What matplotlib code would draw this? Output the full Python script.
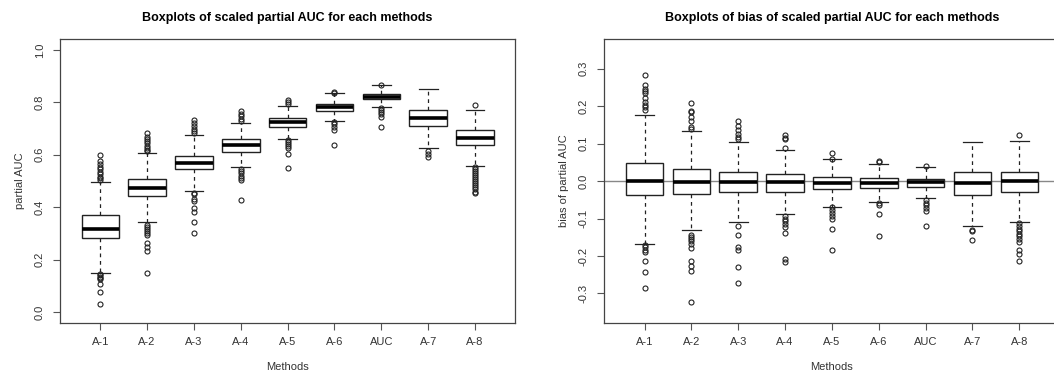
import matplotlib
matplotlib.use("Agg")
import matplotlib.pyplot as plt

plt.rcParams['font.family'] = ['Liberation Sans', 'DejaVu Sans']

methods = ["A-1", "A-2", "A-3", "A-4", "A-5", "A-6", "AUC", "A-7", "A-8"]

# left panel: scaled partial AUC
pauc_q1 = [0.281, 0.441, 0.545, 0.612, 0.705, 0.768, 0.812, 0.709, 0.636]
pauc_med = [0.319, 0.474, 0.570, 0.636, 0.726, 0.781, 0.822, 0.739, 0.664]
pauc_q3 = [0.369, 0.508, 0.597, 0.659, 0.739, 0.793, 0.832, 0.770, 0.693]
pauc_lo = [0.151, 0.345, 0.462, 0.552, 0.660, 0.730, 0.781, 0.627, 0.556]
pauc_hi = [0.495, 0.608, 0.677, 0.723, 0.786, 0.835, 0.866, 0.850, 0.770]
pauc_out = [
    [0.600, 0.575, 0.565, 0.555, 0.545, 0.535, 0.525, 0.515, 0.510, 0.505,
     0.145, 0.140, 0.135, 0.130, 0.125, 0.106, 0.076, 0.033],
    [0.684, 0.667, 0.660, 0.652, 0.643, 0.635, 0.627, 0.620, 0.615,
     0.332, 0.325, 0.318, 0.310, 0.303, 0.294, 0.265, 0.250, 0.234, 0.151],
    [0.733, 0.720, 0.710, 0.700, 0.690, 0.683,
     0.455, 0.450, 0.430, 0.425, 0.397, 0.383, 0.345, 0.302],
    [0.765, 0.757, 0.747, 0.737, 0.728,
     0.545, 0.540, 0.530, 0.520, 0.510, 0.504, 0.427],
    [0.809, 0.800, 0.792, 0.655, 0.648, 0.640, 0.633, 0.626, 0.602, 0.548],
    [0.838, 0.836, 0.726, 0.718, 0.705, 0.695, 0.637],
    [0.866, 0.777, 0.770, 0.763, 0.755, 0.745, 0.705],
    [0.614, 0.602, 0.590],
    [0.789, 0.553, 0.545, 0.538, 0.530, 0.522, 0.515, 0.508, 0.500, 0.493,
     0.485, 0.478, 0.468, 0.460, 0.453],
]

# right panel: bias of scaled partial AUC
bias_q1 = [-0.038, -0.035, -0.030, -0.028, -0.021, -0.018, -0.016, -0.038, -0.030]
bias_med = [0.000, -0.003, -0.003, -0.003, -0.004, -0.004, -0.002, -0.004, -0.001]
bias_q3 = [0.048, 0.033, 0.023, 0.018, 0.011, 0.007, 0.005, 0.025, 0.025]
bias_lo = [-0.167, -0.132, -0.110, -0.088, -0.068, -0.055, -0.046, -0.119, -0.110]
bias_hi = [0.177, 0.134, 0.104, 0.082, 0.058, 0.045, 0.037, 0.103, 0.106]
bias_out = [
    [0.283, 0.257, 0.245, 0.240, 0.236, 0.221, 0.210, 0.203, 0.197, 0.190,
     -0.170, -0.175, -0.185, -0.190, -0.214, -0.242, -0.285],
    [0.209, 0.188, 0.185, 0.170, 0.160, 0.145, 0.140,
     -0.145, -0.150, -0.155, -0.160, -0.168, -0.180, -0.214, -0.226, -0.240, -0.324],
    [0.159, 0.147, 0.136, 0.126, 0.118, 0.111,
     -0.120, -0.144, -0.175, -0.184, -0.229, -0.271],
    [0.122, 0.115, 0.111, 0.088,
     -0.092, -0.100, -0.107, -0.115, -0.122, -0.139, -0.209, -0.216],
    [0.076, 0.060, -0.070, -0.078, -0.085, -0.093, -0.100, -0.127, -0.183],
    [0.054, 0.050, -0.058, -0.063, -0.089, -0.148],
    [0.041, -0.050, -0.058, -0.065, -0.072, -0.080, -0.121],
    [-0.130, -0.134, -0.157],
    [0.123, -0.113, -0.120, -0.127, -0.134, -0.141, -0.148, -0.155, -0.162,
     -0.183, -0.194, -0.213],
]


def make_stats(q1, med, q3, lo, hi, out):
    stats = []
    for i in range(len(methods)):
        stats.append(dict(q1=q1[i], med=med[i], q3=q3[i],
                          whislo=lo[i], whishi=hi[i], fliers=out[i]))
    return stats


def r_boxplot(ax, stats, title, ylabel, ylim, yticks):
    ax.bxp(stats, positions=range(1, len(methods) + 1), widths=0.8,
           patch_artist=True, showfliers=True,
           boxprops=dict(facecolor="white", edgecolor="#222222", linewidth=1.0),
           medianprops=dict(color="black", linewidth=2.6, solid_capstyle="butt"),
           whiskerprops=dict(color="#222222", linewidth=0.9, linestyle=(0, (3, 3))),
           capprops=dict(color="#222222", linewidth=0.9),
           capwidths=0.4,
           flierprops=dict(marker="o", markersize=3.6, markerfacecolor="none",
                           markeredgecolor="#222222", markeredgewidth=0.8))
    ax.set_xlim(0.14, 9.86)
    ax.set_ylim(*ylim)
    ax.set_xticks(range(1, len(methods) + 1))
    ax.set_xticklabels(methods)
    ax.set_yticks(yticks)
    ax.set_yticklabels(["%.1f" % t for t in yticks], rotation=90, va="center")
    ax.tick_params(direction="out", length=5, width=0.8, colors="#555555",
                   labelcolor="#333333", labelsize=8)
    ax.tick_params(axis="x", pad=5)
    ax.tick_params(axis="y", pad=6)
    for s in ax.spines.values():
        s.set_color("#444444")
        s.set_linewidth(0.9)
    ax.set_title(title, fontsize=9, fontweight="bold", pad=13)
    ax.set_xlabel("Methods", fontsize=8, color="#333333", labelpad=11)
    ax.set_ylabel(ylabel, fontsize=8, color="#333333", labelpad=7)


fig = plt.figure(figsize=(10.54, 3.77), dpi=100)
ax1 = fig.add_axes([0.0569, 0.144, 0.432, 0.7517])
ax2 = fig.add_axes([0.5733, 0.144, 0.432, 0.7517])

r_boxplot(ax1, make_stats(pauc_q1, pauc_med, pauc_q3, pauc_lo, pauc_hi, pauc_out),
          "Boxplots of scaled partial AUC for each methods", "partial AUC",
          (-0.04, 1.04), [0.0, 0.2, 0.4, 0.6, 0.8, 1.0])

ax2.axhline(0, color="#888888", linewidth=1.0, zorder=0.5)
r_boxplot(ax2, make_stats(bias_q1, bias_med, bias_q3, bias_lo, bias_hi, bias_out),
          "Boxplots of bias of scaled partial AUC for each methods", "bias of partial AUC",
          (-0.378, 0.378), [-0.3, -0.2, -0.1, 0.0, 0.1, 0.2, 0.3])

fig.savefig("out.png", dpi=100)
